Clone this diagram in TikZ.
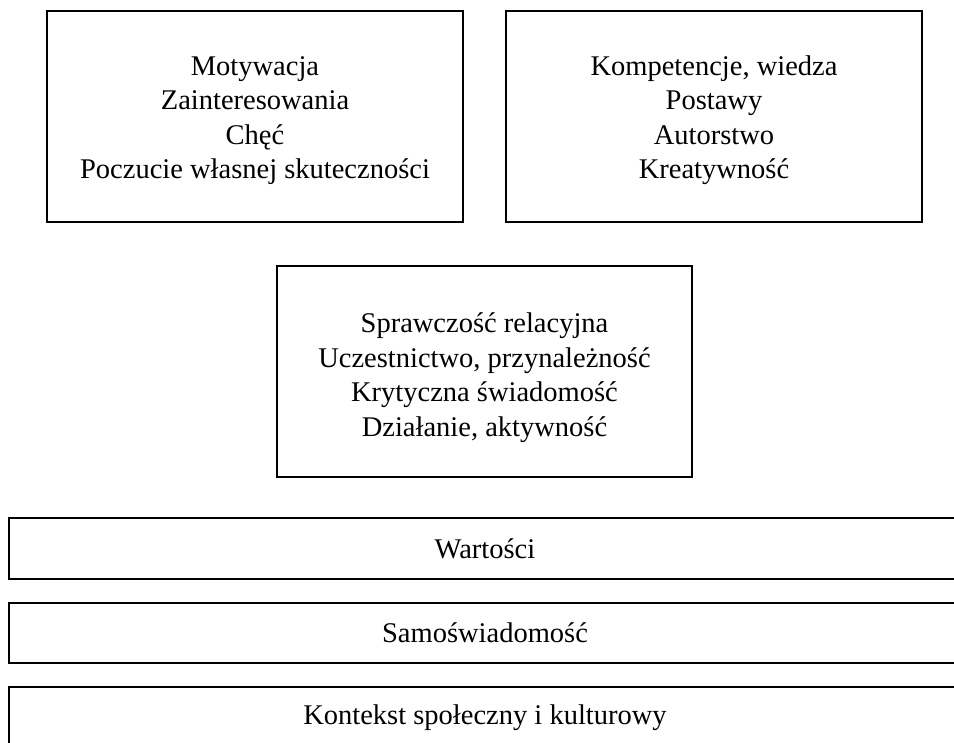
\documentclass[tikz,border=0pt]{standalone}
\usepackage{fontspec}
\setmainfont{Liberation Serif}
\newcommand{\topstrut}[1]{\rule{0pt}{#1}}
\begin{document}
\begin{tikzpicture}[x=1pt,y=-1pt,
  box/.style={draw=black,line width=1.7pt,rectangle,inner sep=0pt,align=center,
    font=\fontsize{28.5}{34.5}\selectfont}]
\useasboundingbox (0,0) rectangle (954,743);
\begin{scope}
\clip (0,0) rectangle (954,743);
\node[box,minimum width=416pt,minimum height=211pt] (mot) at (255,116.5)
  {\topstrut{27pt}Motywacja\\Zainteresowania\\Chęć\\Poczucie własnej skuteczności};
\node[box,minimum width=416pt,minimum height=211pt] (komp) at (714,116.5)
  {\topstrut{27pt}Kompetencje, wiedza\\Postawy\\Autorstwo\\Kreatywność};
\node[box,minimum width=415pt,minimum height=211pt] (spr) at (484.5,371.5)
  {\topstrut{32pt}Sprawczość relacyjna\\Uczestnictwo, przynależność\\Krytyczna świadomość\\Działanie, aktywność};
\node[box,minimum width=952pt,minimum height=61pt] (war) at (485,548.5) {Wartości};
\node[box,minimum width=952pt,minimum height=60pt] (sam) at (485,633) {Samoświadomość};
\node[box,minimum width=952pt,minimum height=61pt] (kon) at (485,717.5) {Kontekst społeczny i kulturowy};
\end{scope}
\end{tikzpicture}
\end{document}
